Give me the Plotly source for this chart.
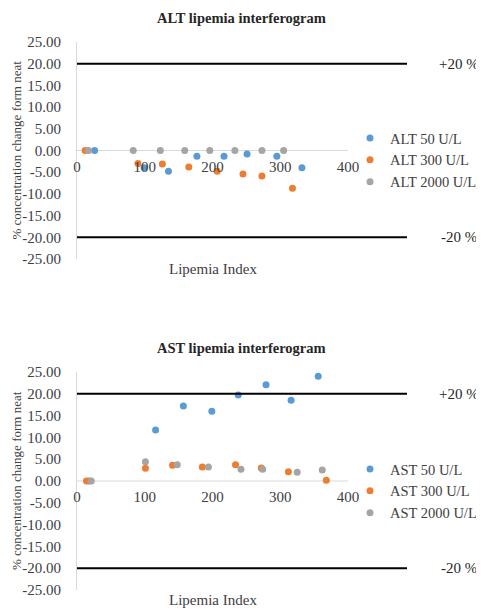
import plotly.graph_objects as go

# ---- data ----
alt50_x = [26, 99, 135, 177, 217, 251, 295, 332]
alt50_y = [0.0, -4.0, -4.8, -1.3, -1.3, -0.8, -1.3, -4.0]
alt300_x = [12, 90, 126, 165, 207, 245, 273, 318]
alt300_y = [0.0, -3.0, -3.1, -3.8, -4.8, -5.4, -5.9, -8.7]
alt2000_x = [17, 83, 123, 159, 196, 233, 273, 305]
alt2000_y = [0.0, 0.0, 0.0, 0.0, 0.0, 0.0, 0.0, 0.0]

ast50_x = [18, 116, 157, 199, 238, 279, 316, 356]
ast50_y = [0.0, 11.7, 17.2, 16.0, 19.7, 22.1, 18.5, 24.0]
ast300_x = [14, 101, 141, 185, 234, 272, 312, 368]
ast300_y = [0.0, 2.9, 3.6, 3.2, 3.7, 3.0, 2.1, 0.2]
ast2000_x = [21, 101, 148, 194, 242, 274, 325, 362]
ast2000_y = [0.0, 4.4, 3.7, 3.2, 2.7, 2.7, 2.0, 2.5]

y_ticks = [25, 20, 15, 10, 5, 0, -5, -10, -15, -20, -25]
y_ticktext = ["25.00", "20.00", "15.00", "10.00", "5.00", "0.00", "-5.00",
              "-10.00", "-15.00", "-20.00", "-25.00"]
x_ticks = [0, 100, 200, 300, 400]
limits = [20, -20]
limit_labels = ["+20 %", "-20 %"]

BLUE, ORANGE, GRAY = "#5B9BD5", "#ED7D31", "#A5A5A5"
FONT = "Liberation Serif"
OFF = 8  # page body margin
W, H = 484 - OFF, 609 - OFF

def px_x(px):
    return (px - OFF) / W

def px_y(py):
    return 1 - (py - OFF) / H

x_dom = [px_x(77), px_x(407)]
x_max = 400 * 330 / 271
top_dom = [px_y(259), px_y(42)]
bot_dom = [px_y(590), px_y(372)]

fig = go.Figure()

def add(x, y, name, color, xa, ya, legend):
    fig.add_trace(go.Scatter(x=x, y=y, mode="markers", name=name,
                             marker=dict(color=color, size=7),
                             xaxis=xa, yaxis=ya, legend=legend))

add(alt50_x, alt50_y, "ALT 50 U/L", BLUE, "x", "y", "legend")
add(alt300_x, alt300_y, "ALT 300 U/L", ORANGE, "x", "y", "legend")
add(alt2000_x, alt2000_y, "ALT 2000 U/L", GRAY, "x", "y", "legend")
add(ast50_x, ast50_y, "AST 50 U/L", BLUE, "x2", "y2", "legend2")
add(ast300_x, ast300_y, "AST 300 U/L", ORANGE, "x2", "y2", "legend2")
add(ast2000_x, ast2000_y, "AST 2000 U/L", GRAY, "x2", "y2", "legend2")

tickfont = dict(family=FONT, size=15, color="#404040")

def xaxis(dom_y):
    return dict(domain=x_dom, range=[0, x_max], anchor="free",
                position=(dom_y[0] + dom_y[1]) / 2,
                tickvals=x_ticks, showgrid=False, zeroline=False,
                showline=False, ticks="", tickfont=tickfont,
                ticklabelstandoff=5, automargin=False)

def yaxis(dom, anchor_x):
    return dict(domain=dom, range=[-25, 25], anchor=anchor_x,
                tickvals=y_ticks, ticktext=y_ticktext, showgrid=False,
                zeroline=False, showline=True, linecolor="#D9D9D9",
                linewidth=1, ticks="", tickfont=tickfont,
                ticklabelstandoff=12, automargin=False)

shapes = []
annotations = []
for xa, ya, dom, title in [("x", "y", top_dom, "ALT lipemia interferogram"),
                           ("x2", "y2", bot_dom, "AST lipemia interferogram")]:
    shapes.append(dict(type="line", xref=xa, yref=ya, x0=0, x1=400, y0=0, y1=0,
                       line=dict(color="#D9D9D9", width=1), layer="below"))
    for lv, lt in zip(limits, limit_labels):
        shapes.append(dict(type="line", xref=xa, yref=ya, x0=0, x1=x_max,
                           y0=lv, y1=lv, line=dict(color="#000000", width=2)))
        annotations.append(dict(xref="paper", yref=ya, x=px_x(459), y=lv,
                                xanchor="center", yanchor="middle",
                                text=lt, showarrow=False,
                                font=dict(family=FONT, size=15, color="#262626")))
    ymid = (dom[0] + dom[1]) / 2
    annotations.append(dict(xref="paper", yref="paper", x=px_x(16), y=ymid,
                            xanchor="center", yanchor="middle",
                            text="% concentration change form neat",
                            textangle=-90, showarrow=False,
                            font=dict(family=FONT, size=13, color="#404040")))
    annotations.append(dict(xref=xa, yref="paper", x=200, y=dom[0] - 10 / H,
                            xanchor="center", yanchor="middle",
                            text="Lipemia Index", showarrow=False,
                            font=dict(family=FONT, size=15, color="#404040")))
    annotations.append(dict(xref="paper", yref="paper", x=px_x(241),
                            y=dom[1] + 24 / H, xanchor="center", yanchor="middle",
                            text="<b>" + title + "</b>", showarrow=False,
                            font=dict(family=FONT, size=14.5, color="#262626")))

legfont = dict(family=FONT, size=14.5, color="#404040")
fig.update_layout(
    width=W, height=H, margin=dict(l=0, r=0, t=0, b=0, autoexpand=False),
    paper_bgcolor="white", plot_bgcolor="white",
    xaxis=xaxis(top_dom), yaxis=yaxis(top_dom, "x"),
    xaxis2=xaxis(bot_dom), yaxis2=yaxis(bot_dom, "x2"),
    legend=dict(x=px_x(350), y=px_y(122), xanchor="left", yanchor="top",
                font=legfont, itemwidth=30, tracegroupgap=0,
                bgcolor="rgba(0,0,0,0)"),
    legend2=dict(x=px_x(350), y=px_y(453), xanchor="left", yanchor="top",
                 font=legfont, itemwidth=30, tracegroupgap=0,
                 bgcolor="rgba(0,0,0,0)"),
    shapes=shapes, annotations=annotations, showlegend=True,
)
fig.write_html("out.html")
